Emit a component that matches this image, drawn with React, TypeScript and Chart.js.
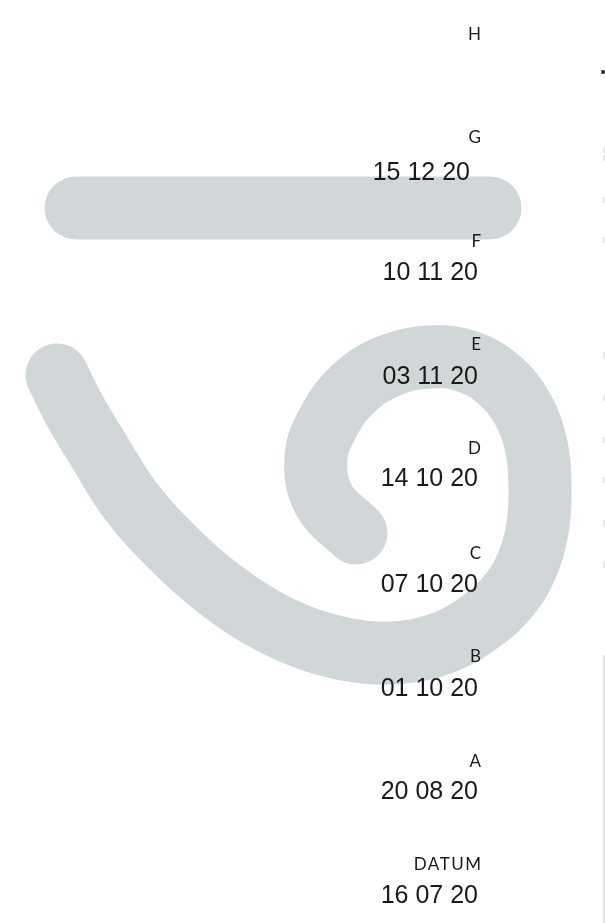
import React, { useEffect, useRef } from "react";
import { Chart, registerables } from "chart.js";

Chart.register(...registerables);

// Category letters and dates (top to bottom)
const letters = ["H", "G", "F", "E", "D", "C", "B", "A", "DATUM"];
const letterY = [35, 138, 242, 345, 449, 554, 657, 762, 865];
const dates = ["15 12 20", "10 11 20", "03 11 20", "14 10 20", "07 10 20", "01 10 20", "20 08 20", "16 07 20"];
const dateY = [173, 273, 377, 479, 585, 689, 792, 896];
const dateX = [470, 478, 478, 478, 478, 478, 478, 478];
const letterX = 481;

// Grey decorative strokes
const barX = [76, 490];
const barY = [208, 208];
const spiralX = [57, 75, 96, 130, 173, 218, 266, 314, 363, 405, 445, 480, 510, 529, 538, 540, 536, 522, 498, 466, 430, 389, 354, 329, 316, 324, 356];
const spiralY = [375, 411, 446, 500, 548, 588, 620, 641, 652, 652, 642, 622, 594, 560, 525, 485, 445, 408, 379, 361, 357, 366, 388, 421, 458, 500, 533];

// Right edge marks
const edgeLineX = [604, 604];
const edgeLineY = [655, 923];
const edgeMarkY = [150, 158, 200, 240, 355, 398, 440, 480, 523, 565];
const darkMarkY = [72];

const GREY = "#d1d6d8";

function pts(xs: number[], ys: number[]) {
  return xs.map((x, i) => ({ x, y: ys[i] }));
}

const labelPlugin = {
  id: "labelPlugin",
  afterDatasetsDraw(chart: any) {
    const { ctx, scales } = chart;
    const xs = scales.x;
    const ys = scales.y;
    ctx.save();
    ctx.fillStyle = "#1a1a1a";
    ctx.textAlign = "right";
    ctx.textBaseline = "middle";
    ctx.font = "17px Lato";
    (ctx as any).letterSpacing = "1.5px";
    letters.forEach((l, i) => {
      ctx.fillText(l, xs.getPixelForValue(letterX) + 1.5, ys.getPixelForValue(letterY[i]));
    });
    (ctx as any).letterSpacing = "0px";
    ctx.font = "25px 'Liberation Sans'";
    dates.forEach((d, i) => {
      ctx.fillText(d, xs.getPixelForValue(dateX[i]), ys.getPixelForValue(dateY[i]));
    });
    ctx.restore();
  },
};

export default function App() {
  const ref = useRef<HTMLCanvasElement>(null);
  useEffect(() => {
    document.body.style.margin = "0";
    const canvas = ref.current!;
    const chart = new Chart(canvas, {
      type: "scatter",
      data: {
        datasets: [
          {
            data: pts(barX, barY),
            showLine: true,
            borderColor: GREY,
            borderWidth: 63,
            borderCapStyle: "round",
            pointRadius: 0,
            clip: false,
          } as any,
          {
            data: pts(spiralX, spiralY),
            showLine: true,
            borderColor: GREY,
            borderWidth: 63,
            borderCapStyle: "round",
            borderJoinStyle: "round",
            tension: 0.4,
            capBezierPoints: false,
            pointRadius: 0,
            clip: false,
          } as any,
          {
            data: pts(edgeLineX, edgeLineY),
            showLine: true,
            borderColor: "#e4e4e4",
            borderWidth: 2,
            pointRadius: 0,
            clip: false,
          } as any,
          {
            data: edgeMarkY.map((y) => ({ x: 604, y })),
            showLine: false,
            pointStyle: "line",
            rotation: 90,
            radius: 3,
            borderColor: "#e2e2e2",
            borderWidth: 1.5,
            clip: false,
          } as any,
          {
            data: darkMarkY.map((y) => ({ x: 603, y })),
            showLine: false,
            pointStyle: "rect",
            radius: 2.5,
            backgroundColor: "#222",
            borderColor: "#222",
            borderWidth: 0,
            clip: false,
          } as any,
        ],
      },
      options: {
        animation: false,
        responsive: false,
        maintainAspectRatio: false,
        layout: { padding: 0, autoPadding: false },
        plugins: { legend: { display: false }, tooltip: { enabled: false } },
        events: [],
        scales: {
          x: { type: "linear", min: 0, max: 605, display: false },
          y: { type: "linear", min: 0, max: 923, reverse: true, display: false },
        },
      },
      plugins: [labelPlugin],
    });
    return () => chart.destroy();
  }, []);
  return (
    <div style={{ width: 605, height: 923, background: "#fff" }}>
      <canvas ref={ref} width={605} height={923} style={{ display: "block" }} />
    </div>
  );
}
